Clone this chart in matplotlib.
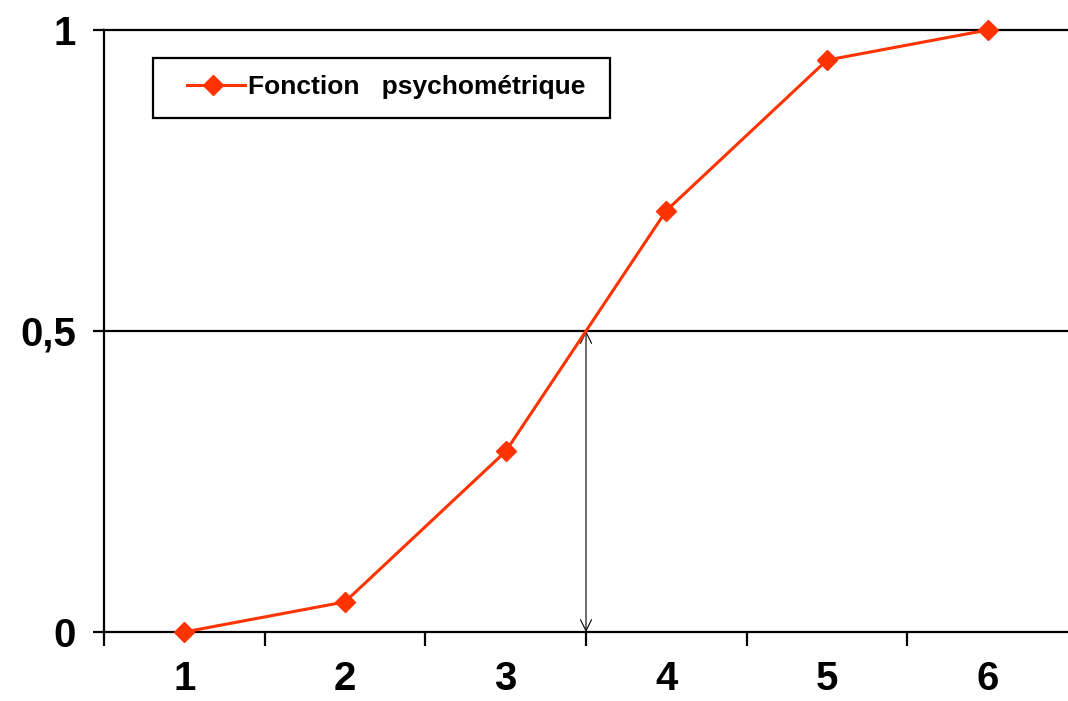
import matplotlib
matplotlib.use('Agg')
import matplotlib.pyplot as plt
from matplotlib.patches import Rectangle
from matplotlib.lines import Line2D
from matplotlib.ticker import FixedLocator, NullFormatter
import numpy as np

# données
categories = ['1', '2', '3', '4', '5', '6']
proportions = [0.0, 0.05, 0.3, 0.7, 0.95, 1.0]
y_ticks = [0, 0.5, 1]
y_labels = ['0', '0,5', '1']
seuil_x = 3.5
seuil_y = 0.5
serie_label = 'Fonction   psychométrique'

red = '#FF3300'
plt.rcParams['font.family'] = ['Liberation Sans', 'DejaVu Sans']

fig = plt.figure(figsize=(10.68, 7.01), dpi=100, facecolor='white')
ax = fig.add_axes([104 / 1068, 69 / 701, 1 - 104 / 1068, (632 - 30) / 701])

x = np.arange(1, len(categories) + 1)
ax.plot(x, proportions, color=red, linewidth=2.2, marker='D', markersize=10,
        markerfacecolor=red, markeredgecolor=red, clip_on=False, zorder=4)

# lignes de quadrillage horizontales
for yv in y_ticks[1:]:
    ax.axhline(yv, color='black', linewidth=1.6, zorder=2, clip_on=False)

# flèche double du seuil
ax.annotate('', xy=(seuil_x, 0), xytext=(seuil_x, seuil_y),
            arrowprops=dict(arrowstyle='<->', color='black', lw=0.8,
                            mutation_scale=20, shrinkA=0, shrinkB=0),
            zorder=3)

ax.set_xlim(0.5, 6.5)
ax.set_ylim(0, 1)

ax.spines['top'].set_visible(False)
ax.spines['right'].set_visible(False)
for sp in ['left', 'bottom']:
    ax.spines[sp].set_linewidth(1.6)

ax.set_yticks(y_ticks)
ax.set_yticklabels(y_labels, fontsize=29, fontweight='bold')
ax.tick_params(axis='y', length=8, width=1.6, pad=12)

# étiquettes centrées sur les catégories, graduations entre elles
ax.xaxis.set_major_locator(FixedLocator(np.arange(0.5, 6.0, 1.0)))
ax.xaxis.set_major_formatter(NullFormatter())
ax.xaxis.set_minor_locator(FixedLocator(x))
ax.set_xticklabels(categories, minor=True, fontsize=29, fontweight='bold')
ax.tick_params(axis='x', which='minor', length=0, pad=20)
ax.tick_params(axis='x', which='major', length=10, width=1.6)

# légende façon Excel (cadre noir, marge gauche plus large)
tr = ax.transAxes
ax.add_patch(Rectangle((0.0508, 0.854), 0.474, 0.0995, transform=tr,
                       facecolor='white', edgecolor='black', linewidth=1.6,
                       zorder=5))
ax.add_line(Line2D([0.0861, 0.1463], [0.9086, 0.9086], transform=tr,
                   color=red, linewidth=2.2, zorder=6))
ax.add_line(Line2D([0.113], [0.9086], transform=tr, marker='D', markersize=10,
                   color=red, zorder=6))
ax.text(0.1494, 0.905, serie_label, transform=tr, fontsize=19,
        fontweight='bold', va='center', ha='left', zorder=6)

fig.savefig('out.png', dpi=100, facecolor='white')
